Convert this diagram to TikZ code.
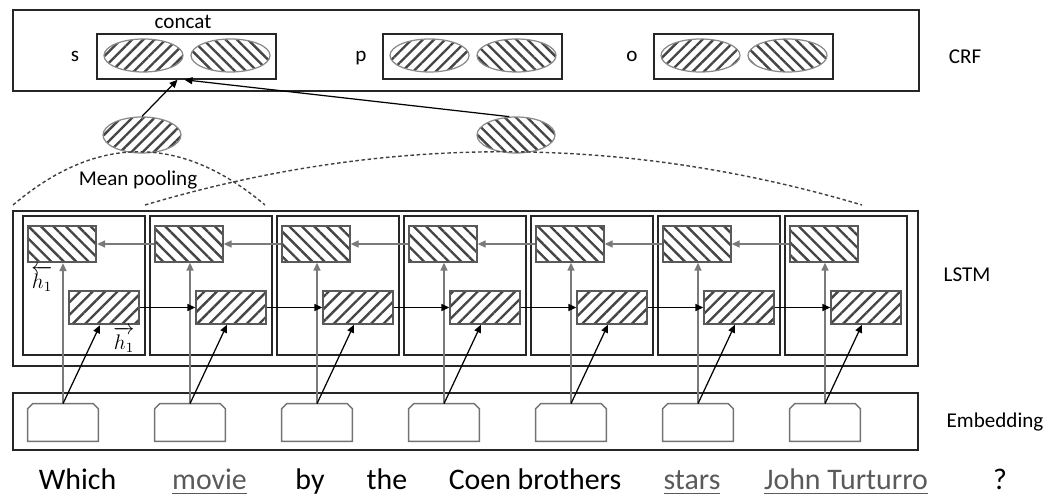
\documentclass[tikz,border=0pt]{standalone}
\usepackage{amsmath}
\usepackage{fontspec}
\setmainfont{Carlito}
\usetikzlibrary{arrows.meta,patterns.meta,shapes.geometric}

% one unit = one pixel of the layout grid
\newcommand{\pxu}{0.02cm}
\definecolor{hatch}{HTML}{454545}
\definecolor{rim}{HTML}{8A8A8A}
\definecolor{backflow}{HTML}{7A7A7A}
\definecolor{wordgray}{HTML}{5A5A5A}

\tikzset{
  layer/.style 2 args={draw=black!85, line width=1.1pt, inner sep=0pt,
    minimum width=#1*\pxu, minimum height=#2*\pxu},
  cell/.style={draw=black!85, line width=0.9pt, inner sep=0pt,
    minimum width=122*\pxu, minimum height=139*\pxu},
  fhatch/.style={pattern={Lines[angle=45,distance=#1,line width=1.35pt]}, pattern color=hatch},
  fhatch/.default=5pt,
  bhatch/.style={pattern={Lines[angle=-45,distance=#1,line width=1.35pt]}, pattern color=hatch},
  bhatch/.default=5pt,
  fwdbox/.style={draw=black!65, line width=0.8pt, fhatch, inner sep=0pt,
    minimum width=70*\pxu, minimum height=33*\pxu},
  bwdbox/.style={draw=black!65, line width=0.8pt, bhatch, inner sep=0pt,
    minimum width=68*\pxu, minimum height=36*\pxu},
  vec/.style={ellipse, draw=rim, line width=0.7pt, inner sep=0pt,
    minimum width=79*\pxu, minimum height=33*\pxu},
  catbox/.style={draw=black!85, line width=0.9pt, inner sep=0pt,
    minimum width=179*\pxu, minimum height=45*\pxu},
  embnode/.style={inner sep=0pt, minimum width=70*\pxu, minimum height=37*\pxu},
  embline/.style={draw=black!55, line width=0.8pt},
  lbl/.style={font=\fontsize{12}{14}\selectfont, inner sep=0pt},
  word/.style={font=\fontsize{17}{20}\selectfont, inner sep=0pt, anchor=base},
  fwdarrow/.style={-{Triangle[length=4.5pt,width=4pt]}, line width=0.7pt, black},
  bwdarrow/.style={-{Triangle[length=4.5pt,width=4pt]}, line width=0.7pt, backflow},
  pooldash/.style={dash pattern=on 2pt off 1.5pt, line width=0.8pt, black!75},
}

\begin{document}
\begin{tikzpicture}[x=0.02cm,y=-0.02cm]
\useasboundingbox (0,0) rectangle (1060,496);

% layers
\node[layer={906}{81}] (crfbox) at (466,50.5) {};
\node[layer={905}{155}] (lstmbox) at (465.5,288.5) {};
\node[layer={905}{57}] (embbox) at (465.5,421.5) {};
\node[lbl] (crf) at (965,57) {CRF};
\node[lbl] (lstm) at (967,275) {LSTM};
\node[lbl] (embed) at (995,422) {Embedding};

% s, p, o slots of the CRF
\foreach \n/\x in {s/186.5, p/472.5, o/743.5} {
  \node[catbox] (cat\n) at (\x,56.5) {};
  \node[lbl, anchor=base] (tag\n) at (\x-111.5,62) {\n};
  \node[vec, fhatch=4.5pt] (cat\n L) at (\x-43,55.5) {};
  \node[vec, bhatch=4.5pt] (cat\n R) at (\x+44,55.5) {};
}
\node[lbl] (concat) at (183,22) {concat};

% pooled vectors
\node[vec, fhatch=4.5pt, minimum width=78*\pxu, minimum height=36*\pxu] (poolL) at (142,135) {};
\node[vec, bhatch=4.5pt, minimum width=78*\pxu, minimum height=36*\pxu] (poolR) at (516,135) {};
\draw[fwdarrow] (poolL.north) -- ([xshift=-9*\pxu]cats.south);
\draw[fwdarrow] (poolR.110) -- ([xshift=-2*\pxu]cats.south);
\draw[pooldash] (13,205) .. controls (97,134) and (181,134) .. (265,205);
\draw[pooldash] (145,205) .. controls (384,134) and (623,134) .. (862,205);
\node[lbl] (meanpool) at (138,180) {Mean pooling};

% BiLSTM cells and embeddings
\foreach \i [evaluate=\i as \cx using 84+127*\i] in {0,...,6} {
  \node[cell] (cell\i) at (\cx,285.5) {};
  \node[bwdbox] (bwd\i) at (\cx-22,244) {};
  \node[fwdbox] (fwd\i) at (\cx+20,307.5) {};
  \node[embnode] (emb\i) at (\cx-21,422.5) {};
  \draw[embline] (emb\i.south west) -- ([yshift=-5*\pxu]emb\i.north west)
    -- ([xshift=5*\pxu]emb\i.north west) -- ([xshift=-5*\pxu]emb\i.north east)
    -- ([yshift=-5*\pxu]emb\i.north east) -- (emb\i.south east) -- cycle;
}
\foreach \i in {0,...,6} {
  \draw[bwdarrow] (emb\i.north) -- (emb\i.north |- bwd\i.south);
  \draw[fwdarrow] (emb\i.north) -- ([xshift=-4*\pxu]fwd\i.south);
}
\foreach \i [count=\j] in {0,...,5} {
  \draw[fwdarrow] (fwd\i.east) -- (fwd\j.west);
  \draw[bwdarrow] (bwd\j.west) -- (bwd\i.east);
}
\node[lbl] (hback) at (42,279) {$\overleftarrow{h_1}$};
\node[lbl] (hfwd) at (124,340) {$\overrightarrow{h_1}$};

% question words
\foreach \x/\w in {77.5/Which, 310/by, 387/the, 535/Coen brothers, 1000/?}
  \node[word] (word\x) at (\x,489) {\w};
\foreach \x/\w in {209.5/movie, 692/stars, 846/John Turturro}
  \node[word, text=wordgray] (word\x) at (\x,489) {\underline{\w}};
\end{tikzpicture}
\end{document}
